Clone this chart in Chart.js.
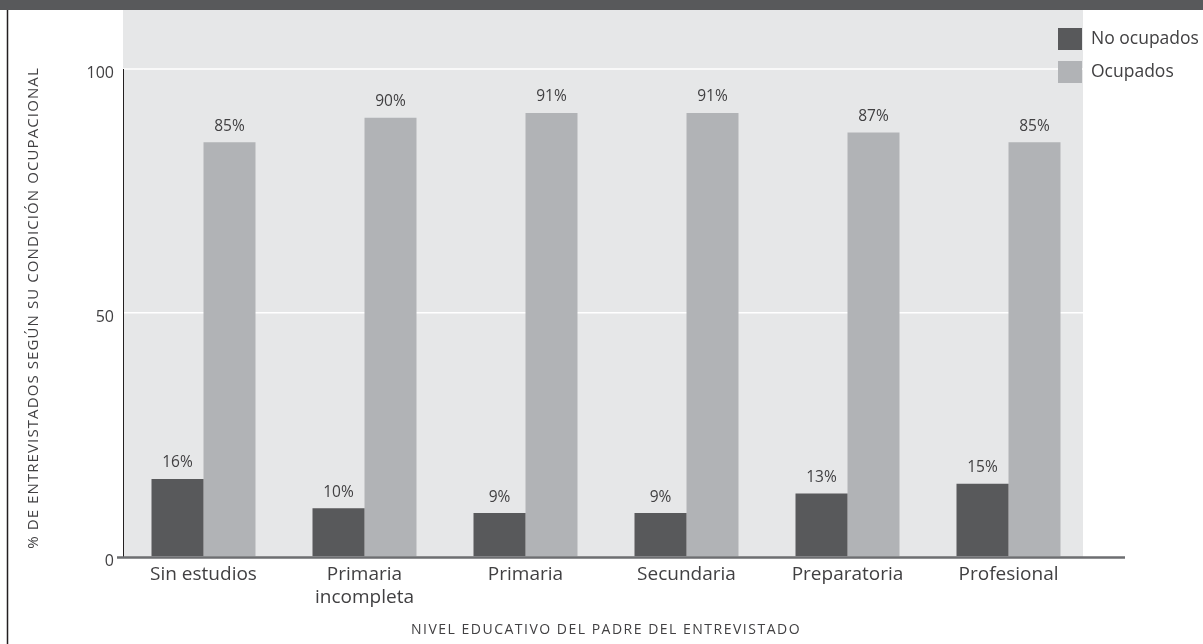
<!DOCTYPE html>
<html><head><meta charset="utf-8">
<script src="https://cdn.jsdelivr.net/npm/chart.js@4.4.1/dist/chart.umd.min.js"></script>
<style>html,body{margin:0;padding:0;background:#fff;}#wrap{width:1203px;height:644px;position:relative}</style>
</head><body><div id="wrap"><canvas id="c" width="1203" height="644"></canvas></div>
<script>
const categories = ['Sin estudios', ['Primaria', 'incompleta'], 'Primaria', 'Secundaria', 'Preparatoria', 'Profesional'];
const seriesNames = ['No ocupados', 'Ocupados'];
const noOcupados = [16, 10, 9, 9, 13, 15];
const ocupados = [85, 90, 91, 91, 87, 85];
const yTicks = [0, 50, 100];
const xTitle = 'NIVEL EDUCATIVO DEL PADRE DEL ENTREVISTADO';
const yTitle = '% DE ENTREVISTADOS SEGÚN SU CONDICIÓN OCUPACIONAL';

const DARK = '#58595b', LIGHT = '#b1b3b6', BG = '#e6e7e8', TXT = '#414042';
const FONT = '"Open Sans"';

const decor = {
  id: 'decor',
  beforeDraw(chart) {
    const {ctx, chartArea: a, width, height} = chart;
    ctx.save();
    ctx.fillStyle = BG;
    ctx.fillRect(a.left, 10, a.right - 6 - a.left, a.bottom - 10);
    ctx.strokeStyle = '#ffffff';
    ctx.lineWidth = 1.5;
    ctx.beginPath(); ctx.moveTo(a.left, a.top); ctx.lineTo(a.right - 6, a.top); ctx.stroke();
    ctx.fillStyle = DARK;
    ctx.fillRect(0, 0, width, 10);
    ctx.strokeStyle = '#231f20';
    ctx.lineWidth = 1.5;
    ctx.beginPath(); ctx.moveTo(7.5, 10); ctx.lineTo(7.5, height); ctx.stroke();
    ctx.restore();
  },
  afterDatasetsDraw(chart) {
    const ctx = chart.ctx;
    ctx.save();
    ctx.font = '15.5px ' + FONT;
    ctx.fillStyle = TXT;
    ctx.textAlign = 'center';
    ctx.textBaseline = 'middle';
    chart.data.datasets.forEach((ds, di) => {
      chart.getDatasetMeta(di).data.forEach((bar, i) => {
        ctx.fillText(ds.data[i] + '%', bar.x, bar.y - 16);
      });
    });
    ctx.restore();
  },
  afterDraw(chart) {
    const {ctx, chartArea: a} = chart;
    ctx.save();
    ctx.strokeStyle = '#6d6e71';
    ctx.lineWidth = 2.5;
    ctx.beginPath(); ctx.moveTo(a.left - 6, a.bottom + 0.5); ctx.lineTo(a.right + 36, a.bottom + 0.5); ctx.stroke();
    // axis titles (letter-spaced small caps style)
    ctx.fillStyle = TXT;
    ctx.textAlign = 'center';
    ctx.textBaseline = 'middle';
    ctx.font = '14px ' + FONT;
    ctx.letterSpacing = '1.5px';
    ctx.fillText(xTitle, (a.left + a.right) / 2, 630);
    ctx.save();
    ctx.translate(34, (a.top + a.bottom) / 2 - 5);
    ctx.rotate(-Math.PI / 2);
    ctx.font = '15px ' + FONT;
    ctx.letterSpacing = '1.1px';
    ctx.fillText(yTitle, 0, 0);
    ctx.restore();
    ctx.letterSpacing = '0px';
    // legend
    const boxX = a.right - 31, textX = a.right + 2;
    const rows = [28, 61];
    ctx.font = '17.5px ' + FONT;
    ctx.textBaseline = 'middle';
    ctx.textAlign = 'left';
    chart.data.datasets.forEach((ds, di) => {
      ctx.fillStyle = ds.backgroundColor;
      ctx.fillRect(boxX, rows[di], 24, 22);
      ctx.fillStyle = TXT;
      ctx.fillText(ds.label, textX, rows[di] + 11);
    });
    ctx.restore();
  }
};

new Chart(document.getElementById('c'), {
  type: 'bar',
  data: {
    labels: categories,
    datasets: [
      {label: seriesNames[0], data: noOcupados, backgroundColor: DARK, borderWidth: 0},
      {label: seriesNames[1], data: ocupados, backgroundColor: LIGHT, borderWidth: 0}
    ]
  },
  options: {
    responsive: false,
    animation: false,
    devicePixelRatio: 1,
    layout: {padding: {top: 69, right: 114, left: 0, bottom: 0}},
    datasets: {bar: {categoryPercentage: 0.646, barPercentage: 1}},
    plugins: {legend: {display: false}, tooltip: {enabled: false}},
    scales: {
      x: {
        grid: {display: false, drawTicks: false},
        border: {display: false},
        ticks: {color: TXT, font: {family: FONT, size: 19, lineHeight: 1.22}, padding: 6, maxRotation: 0, autoSkip: false},
        title: {display: false, text: xTitle},
        afterFit(scale) { scale.height = 87; }
      },
      y: {
        min: 0, max: 100,
        afterBuildTicks(scale) { scale.ticks = yTicks.map(v => ({value: v})); },
        grid: {color: ctx => ctx.tick && ctx.tick.value === 50 ? '#ffffff' : 'rgba(0,0,0,0)', lineWidth: 1.5, drawTicks: false},
        border: {display: true, color: '#231f20', width: 1},
        ticks: {color: TXT, font: {family: FONT, size: 16}, padding: 9, labelOffset: 4},
        title: {display: false, text: yTitle},
        afterFit(scale) { scale.width = 123; }
      }
    }
  },
  plugins: [decor]
});
</script></body></html>
